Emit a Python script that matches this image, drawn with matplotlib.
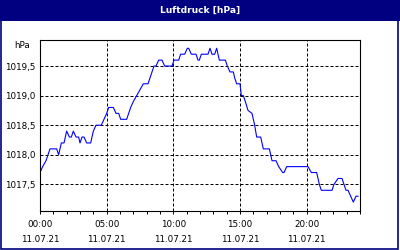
import matplotlib
matplotlib.use("Agg")
import matplotlib.pyplot as plt
from matplotlib.patches import Rectangle

# Luftdruck 11.07.21, Stunde -> hPa
hours = [0.0, 0.2, 0.45, 0.6, 0.75, 1.25, 1.4, 1.6, 1.8, 2.0, 2.2, 2.35, 2.5, 2.7, 2.9,
         3.0, 3.15, 3.3, 3.5, 3.8, 4.0, 4.2, 4.6, 4.8, 5.0, 5.15, 5.5, 5.7, 5.9, 6.05,
         6.5, 6.65, 6.8, 7.0, 7.25, 7.5, 7.75, 8.1, 8.25, 8.4, 8.55, 8.7, 8.9, 9.15,
         9.35, 9.9, 10.05, 10.4, 10.55, 10.85, 11.05, 11.15, 11.35, 11.7, 11.85, 11.95,
         12.1, 12.6, 12.75, 12.9, 13.1, 13.25, 13.45, 13.9, 14.05, 14.25, 14.5, 14.6,
         14.75, 15.0, 15.1, 15.25, 15.4, 15.6, 15.9, 16.1, 16.25, 16.55, 16.75, 17.2,
         17.4, 17.7, 17.9, 18.2, 18.3, 18.5, 20.1, 20.35, 20.75, 20.85, 20.95, 21.1,
         21.9, 22.05, 22.35, 22.65, 22.8, 22.95, 23.1, 23.3, 23.5, 23.7, 23.85]
druck = [1017.7, 1017.8, 1017.9, 1018.0, 1018.1, 1018.1, 1018.0, 1018.2, 1018.2, 1018.4,
         1018.3, 1018.3, 1018.4, 1018.3, 1018.3, 1018.2, 1018.3, 1018.3, 1018.2, 1018.2,
         1018.4, 1018.5, 1018.5, 1018.6, 1018.7, 1018.8, 1018.8, 1018.7, 1018.7, 1018.6,
         1018.6, 1018.7, 1018.8, 1018.9, 1019.0, 1019.1, 1019.2, 1019.2, 1019.3, 1019.4,
         1019.5, 1019.5, 1019.6, 1019.6, 1019.5, 1019.5, 1019.6, 1019.6, 1019.7, 1019.7,
         1019.8, 1019.8, 1019.7, 1019.7, 1019.6, 1019.6, 1019.7, 1019.7, 1019.8, 1019.7,
         1019.7, 1019.8, 1019.6, 1019.6, 1019.5, 1019.4, 1019.4, 1019.3, 1019.2, 1019.2,
         1019.0, 1019.0, 1018.9, 1018.75, 1018.7, 1018.5, 1018.3, 1018.3, 1018.1, 1018.1,
         1017.9, 1017.9, 1017.8, 1017.7, 1017.7, 1017.8, 1017.8, 1017.7, 1017.7, 1017.6,
         1017.5, 1017.4, 1017.4, 1017.5, 1017.6, 1017.6, 1017.5, 1017.4, 1017.4, 1017.3,
         1017.2, 1017.3, 1017.3]

xticks = [0, 5, 10, 15, 20]
xlabels = ["00:00\n11.07.21", "05:00\n11.07.21", "10:00\n11.07.21",
           "15:00\n11.07.21", "20:00\n11.07.21"]
yticks = [1017.5, 1018.0, 1018.5, 1019.0, 1019.5]
ylabels = ["1017,5", "1018,0", "1018,5", "1019,0", "1019,5"]

navy = "#000080"
fig = plt.figure(figsize=(4, 2.5), dpi=100)
fig.patch.set_facecolor("white")

# Titelleiste und Rahmen
fig.patches.append(Rectangle((0, 0.918), 1, 0.082, transform=fig.transFigure,
                             facecolor=navy, edgecolor="none", zorder=0))
fig.patches.append(Rectangle((0.0015, 0.004), 0.994, 0.99, transform=fig.transFigure,
                             facecolor="none", edgecolor=navy, lw=1.2, zorder=5))
fig.text(0.5, 0.958, "Luftdruck [hPa]", color="white", fontsize=6.6, fontweight="bold",
         ha="center", va="center")

ax = fig.add_axes([0.1, 0.156, 0.8, 0.684])
ax.plot(hours, druck, color="#0000ff", lw=0.8)
ax.set_xlim(0, 24)
ax.set_ylim(1017.05, 1019.94)

ax.set_xticks(xticks)
ax.set_xticklabels(xlabels, fontsize=6.3, linespacing=1.9)
ax.set_xticks(range(0, 25), minor=True)
ax.set_yticks(yticks)
ax.set_yticklabels(ylabels, fontsize=6.3)
ax.tick_params(axis="x", which="both", direction="out", length=2.2, width=0.7, pad=4)
ax.tick_params(axis="y", length=0, pad=3)
ax.grid(True, which="major", color="black", lw=0.72, linestyle=(0, (3, 2)))
for s in ax.spines.values():
    s.set_linewidth(0.8)

fig.text(0.055, 0.82, "hPa", fontsize=6.3, ha="center", va="center")

fig.savefig("out.png", dpi=100)
